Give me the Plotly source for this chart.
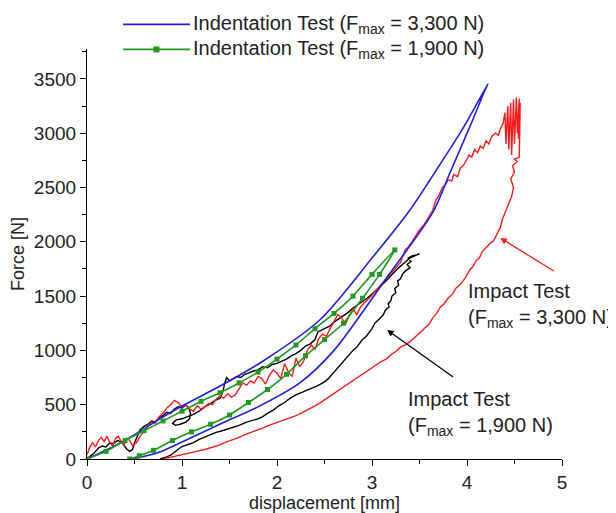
import plotly.graph_objects as go

# ---------------- data ----------------
# Indentation test, Fmax = 3,300 N (blue loop)
blue_load_x = [0, 0.37, 0.9, 1.42, 1.85, 2.45, 3.0, 3.4, 3.61, 3.96, 4.22]
blue_load_f = [0, 157, 440, 681, 900, 1280, 1850, 2293, 2569, 3048, 3453]
blue_unload_x = [4.22, 4.19, 4.06, 3.82, 3.64, 3.16, 2.6, 2.24, 1.8, 1.42, 1.0, 0.75, 0.48]
blue_unload_f = [3453, 3398, 3121, 2633, 2270, 1676, 1000, 700, 480, 330, 157, 60, 0]

# Indentation test, Fmax = 1,900 N (green loop with markers)
green_x = [0, 0.2, 0.4, 0.6, 0.8, 1.0, 1.2, 1.4, 1.6, 1.8, 2.0, 2.2, 2.4, 2.6, 2.8, 3.0, 3.24,
           3.08, 2.9, 2.7, 2.5, 2.3, 2.1, 1.9, 1.7, 1.5, 1.3, 1.1, 0.9, 0.7, 0.55, 0.45]
green_f = [0, 70, 170, 260, 350, 440, 530, 610, 700, 800, 920, 1050, 1200, 1340, 1500, 1700, 1925,
           1700, 1480, 1250, 1100, 950, 780, 640, 520, 405, 320, 250, 170, 80, 30, 0]

# Impact test, Fmax = 1,900 N (black)
black_x = [0, 0.04, 0.08, 0.12, 0.16, 0.2, 0.24, 0.28, 0.32, 0.36, 0.39, 0.42, 0.45, 0.48, 0.5,
           0.53, 0.56, 0.6, 0.64, 0.68, 0.72, 0.76, 0.8, 0.84, 0.88, 0.92, 0.96, 1.0, 1.04, 1.07,
           1.09, 1.08, 1.04, 0.98, 0.93, 0.9, 0.94, 1.0, 1.06, 1.12, 1.18, 1.24, 1.3, 1.35, 1.4,
           1.43, 1.45, 1.47, 1.5, 1.54, 1.58, 1.62, 1.66, 1.7, 1.75, 1.8, 1.85, 1.9, 1.95, 2.0,
           2.05, 2.1, 2.15, 2.2, 2.25, 2.3, 2.35, 2.4, 2.43, 2.46, 2.5, 2.55, 2.6, 2.65, 2.7, 2.75,
           2.8, 2.85, 2.9, 2.95, 3.0, 3.05, 3.1, 3.15, 3.2, 3.25, 3.28, 3.32, 3.36, 3.4, 3.45, 3.5,
           3.47, 3.42, 3.38, 3.41, 3.37, 3.4, 3.35, 3.32, 3.3, 3.27, 3.28, 3.24, 3.25, 3.21, 3.2,
           3.17, 3.18, 3.14, 3.12, 3.09, 3.06, 3.03, 3.0, 2.97, 2.94, 2.9, 2.87, 2.84, 2.8, 2.76,
           2.73, 2.69, 2.66, 2.62, 2.58, 2.54, 2.5, 2.46, 2.42, 2.36, 2.3, 2.25, 2.2, 2.14, 2.08,
           2.02, 1.96, 1.9, 1.85, 1.8, 1.74, 1.68, 1.6, 1.52, 1.44, 1.36, 1.3, 1.24, 1.18, 1.12,
           1.06, 1.0, 0.96, 0.92, 0.88, 0.84, 0.8, 0.77]
black_f = [0, 30, 60, 100, 120, 110, 150, 140, 170, 160, 120, 90, 70, 90, 150,
           210, 270, 300, 320, 350, 340, 380, 400, 430, 420, 460, 480, 470, 500, 470,
           420, 370, 340, 320, 310, 330, 360, 370, 390, 410, 440, 480, 510, 540, 560,
           620, 700, 750, 720, 740, 760, 750, 780, 790, 810, 820, 850, 840, 870, 880,
           900, 920, 950, 970, 1000, 1040, 1060, 1100, 1170, 1180, 1200, 1220, 1260, 1290, 1320, 1350,
           1390, 1420, 1450, 1480, 1520, 1560, 1600, 1640, 1690, 1740, 1760, 1790, 1820, 1850, 1870, 1890,
           1880, 1870, 1850, 1820, 1790, 1760, 1730, 1700, 1660, 1640, 1600, 1570, 1530, 1500, 1460,
           1430, 1400, 1370, 1330, 1300, 1270, 1250, 1200, 1160, 1130, 1100, 1060, 1030, 1000, 960,
           920, 880, 850, 820, 780, 740, 710, 690, 670, 650, 630, 610, 590, 560, 520,
           490, 450, 420, 390, 370, 355, 340, 310, 285, 265, 245, 225, 205, 180, 150,
           130, 115, 90, 60, 35, 20, 5, 0]

# Impact test, Fmax = 3,300 N (red)
red_x = [0, 0.03, 0.06, 0.09, 0.12, 0.15, 0.18, 0.21, 0.24, 0.27, 0.3, 0.33, 0.36, 0.39, 0.42,
         0.45, 0.48, 0.52, 0.56, 0.6, 0.64, 0.68, 0.72, 0.76, 0.8, 0.84, 0.88, 0.92, 0.96, 1.0,
         1.04, 1.08, 1.12, 1.16, 1.2, 1.24, 1.28, 1.32, 1.36, 1.4, 1.44, 1.48, 1.52, 1.56, 1.6,
         1.64, 1.68, 1.72, 1.76, 1.8, 1.84, 1.88, 1.92, 1.96, 2.0, 2.04, 2.08, 2.12, 2.16, 2.2,
         2.24, 2.28, 2.32, 2.36, 2.4, 2.44, 2.48, 2.52, 2.56, 2.6, 2.64, 2.68, 2.72, 2.76, 2.8,
         2.84, 2.88, 2.92, 2.96, 3.0, 3.05, 3.1, 3.15, 3.2, 3.25, 3.3, 3.35, 3.38, 3.42, 3.46,
         3.5, 3.55, 3.6, 3.64, 3.67, 3.7, 3.74, 3.77, 3.8, 3.84, 3.86, 3.9, 3.93, 3.96, 4.0,
         4.02, 4.05, 4.08, 4.11, 4.14, 4.17, 4.2, 4.23, 4.26, 4.3, 4.33, 4.36, 4.38, 4.4, 4.41,
         4.43, 4.44, 4.46, 4.47, 4.49, 4.5, 4.52, 4.53, 4.55, 4.54, 4.56, 4.55,
         4.5, 4.53, 4.48, 4.5, 4.46, 4.49, 4.47, 4.43, 4.4, 4.37, 4.35, 4.32, 4.28, 4.25, 4.2,
         4.16, 4.13, 4.1, 4.06, 4.03, 3.99, 3.96, 3.92, 3.88, 3.85, 3.8, 3.76, 3.72, 3.68, 3.64,
         3.6, 3.55, 3.5, 3.45, 3.4, 3.35, 3.3, 3.25, 3.2, 3.15, 3.1, 3.05, 3.0, 2.95, 2.9,
         2.85, 2.8, 2.75, 2.7, 2.65, 2.6, 2.55, 2.5, 2.45, 2.4, 2.35, 2.3, 2.25, 2.2, 2.15,
         2.1, 2.05, 2.0, 1.95, 1.9, 1.85, 1.8, 1.75, 1.7, 1.65, 1.6, 1.55, 1.5, 1.45, 1.4,
         1.35, 1.3, 1.25, 1.2, 1.15, 1.1, 1.05, 1.0, 0.95, 0.9, 0.85, 0.8]
red_f = [40, 110, 150, 110, 170, 200, 160, 210, 150, 120, 190, 210, 160, 130, 190,
         170, 120, 150, 210, 260, 300, 340, 330, 390, 420, 470, 500, 540, 520, 480,
         500, 460, 440, 490, 460, 480, 510, 500, 550, 580, 560, 600, 570, 590, 650,
         700, 680, 720, 700, 760, 740, 690, 770, 820, 790, 740, 880, 800, 760, 930,
         850, 900, 1000, 1050, 1010, 1110, 1150, 1130, 1200, 1260, 1330, 1300, 1240, 1320, 1380,
         1330, 1400, 1440, 1470, 1510, 1560, 1600, 1650, 1700, 1760, 1810, 1930, 1950, 2000, 2050,
         2110, 2160, 2230, 2290, 2380, 2420, 2500, 2520, 2570, 2560, 2620, 2600, 2680, 2700, 2760,
         2800, 2780, 2850, 2820, 2880, 2860, 2930, 2900, 2970, 3000, 2980, 3060, 3090, 3190, 2900,
         3250, 2850, 3280, 2800, 3310, 2900, 3330, 3000, 3320, 2950, 3280, 2780,
         2760, 2740, 2700, 2640, 2580, 2500, 2420, 2330, 2250, 2200, 2130, 2080, 2010, 1990, 1950,
         1910, 1850, 1830, 1770, 1740, 1680, 1640, 1600, 1570, 1520, 1480, 1430, 1400, 1340, 1300,
         1240, 1200, 1160, 1120, 1080, 1050, 1030, 990, 960, 920, 900, 870, 840, 810, 780,
         750, 720, 690, 660, 630, 600, 570, 540, 515, 490, 465, 440, 420, 400, 385,
         370, 355, 340, 325, 305, 285, 270, 255, 240, 220, 200, 185, 170, 150, 130,
         115, 100, 90, 80, 70, 60, 50, 40, 30, 20, 10, 0]

x_ticks = [0, 1, 2, 3, 4, 5]
y_ticks = [0, 500, 1000, 1500, 2000, 2500, 3000, 3500]

legend_names = ["Indentation Test (F<sub>max</sub> = 3,300 N)",
                "Indentation Test (F<sub>max</sub> = 1,900 N)"]
label_3300 = "Impact Test<br>(F<sub>max</sub> = 3,300 N)"
label_1900 = "Impact Test<br>(F<sub>max</sub> = 1,900 N)"

# ---------------- figure ----------------
FONT = "Liberation Sans, Arial, sans-serif"
TXT = "#222222"
BLUE = "#1f1fe6"
GREEN = "#1e9a1e"
RED = "#ff1a1a"

fig = go.Figure()

fig.add_trace(go.Scatter(x=black_x, y=black_f, mode="lines", line=dict(color="black", width=1.4),
                         showlegend=False, hoverinfo="skip"))
fig.add_trace(go.Scatter(x=red_x, y=red_f, mode="lines", line=dict(color=RED, width=1.4),
                         showlegend=False, hoverinfo="skip"))
fig.add_trace(go.Scatter(x=blue_load_x + blue_unload_x[1:], y=blue_load_f + blue_unload_f[1:],
                         mode="lines", line=dict(color=BLUE, width=1.6, shape="spline", smoothing=0.8),
                         name=legend_names[0], showlegend=False))
fig.add_trace(go.Scatter(x=green_x, y=green_f, mode="lines+markers",
                         line=dict(color=GREEN, width=1.6, shape="spline", smoothing=0.5),
                         marker=dict(symbol="square", size=5, color=GREEN),
                         name=legend_names[1], showlegend=False))

# hand-placed legend (paper coordinates) so the sample lines match the original length
L_X0, L_X1, L_TX = 0.0758, 0.2168, 0.219
ROW_Y = [1.060, 0.999]
fig.add_shape(type="line", xref="paper", yref="paper", x0=L_X0, x1=L_X1, y0=ROW_Y[0], y1=ROW_Y[0],
              line=dict(color=BLUE, width=1.6))
fig.add_shape(type="line", xref="paper", yref="paper", x0=L_X0, x1=L_X1, y0=ROW_Y[1], y1=ROW_Y[1],
              line=dict(color=GREEN, width=1.6))
mx, my = (L_X0 + L_X1) / 2, ROW_Y[1]
fig.add_shape(type="rect", xref="paper", yref="paper", x0=mx - 0.0063, x1=mx + 0.0063,
              y0=my - 0.0073, y1=my + 0.0073, line=dict(color=GREEN, width=0), fillcolor=GREEN)
for name, yy in zip(legend_names, ROW_Y):
    fig.add_annotation(x=L_TX, y=yy, xref="paper", yref="paper", text=name, showarrow=False,
                       xanchor="left", yanchor="middle", font=dict(family=FONT, size=20, color=TXT))

# arrows
fig.add_annotation(x=4.35, y=2035, ax=4.93, ay=1722, xref="x", yref="y", axref="x", ayref="y",
                   text="", showarrow=True, arrowhead=2, arrowsize=1, arrowwidth=1.3, arrowcolor=RED)
fig.add_annotation(x=3.16, y=1188, ax=3.87, ay=746, xref="x", yref="y", axref="x", ayref="y",
                   text="", showarrow=True, arrowhead=2, arrowsize=1, arrowwidth=1.3, arrowcolor="black")
# labels
fig.add_annotation(x=3.99, y=1415, xref="x", yref="y", text=label_3300, showarrow=False,
                   xanchor="left", yanchor="middle", align="left",
                   font=dict(family=FONT, size=20, color=TXT))
fig.add_annotation(x=3.36, y=420, xref="x", yref="y", text=label_1900, showarrow=False,
                   xanchor="left", yanchor="middle", align="left",
                   font=dict(family=FONT, size=20, color=TXT))

axis_common = dict(showline=True, linecolor="black", linewidth=1.2, ticks="outside", ticklen=6,
                   tickwidth=1.2, tickcolor="black", showgrid=False, zeroline=False, automargin=False,
                   tickfont=dict(family=FONT, size=19, color=TXT))

fig.update_xaxes(range=[0, 5], tickvals=x_ticks,
                 title=dict(text="displacement [mm]", font=dict(family=FONT, size=18, color=TXT), standoff=2),
                 minor=dict(dtick=0.5, ticks="outside", ticklen=4, tickcolor="black", tickwidth=1.2),
                 **axis_common)
fig.update_yaxes(range=[0, 3775], tickvals=y_ticks,
                 title=dict(text="Force [N]", font=dict(family=FONT, size=18, color=TXT), standoff=5),
                 minor=dict(dtick=250, ticks="outside", ticklen=4, tickcolor="black", tickwidth=1.2),
                 **axis_common)

# the page body carries an 8 px margin, so the figure is drawn 8 px smaller and offset
fig.update_layout(
    width=608, height=505,
    margin=dict(l=79, r=54, t=41, b=54, autoexpand=False),
    plot_bgcolor="white", paper_bgcolor="white",
    font=dict(family=FONT, color=TXT),
    showlegend=False,
)

fig.write_html("out.html")
